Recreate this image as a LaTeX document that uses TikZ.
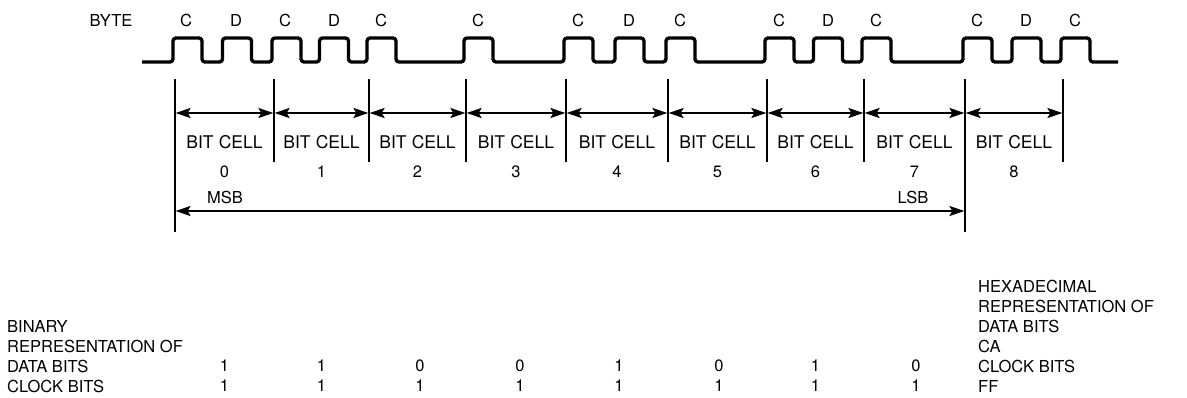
\documentclass[tikz,border=0pt]{standalone}
\usepackage{fontspec}
\setmainfont{TeX Gyre Heros}
\usetikzlibrary{arrows.meta}
\tikzset{
  txt/.style={inner sep=0pt,font=\fontsize{16.5}{20}\selectfont},
  celltxt/.style={inner sep=0pt,font=\fontsize{17.5}{20}\selectfont},
  lbl/.style={txt,anchor=west},
  wave/.style={line width=3.4pt,rounded corners=3pt,line join=round},
  bound/.style={line width=2.8pt},
  dimarrow/.style={line width=1.9pt,{Stealth[length=15pt,width=10pt,inset=3pt]}-{Stealth[length=15pt,width=10pt,inset=3pt]}, shorten <=0.6pt, shorten >=0.6pt},
}
\begin{document}
\begin{tikzpicture}[x=1pt,y=-1pt]
\useasboundingbox (0,0) rectangle (1187,398);
% waveform
\draw[wave] (142,62) foreach \s in {173,222.5,272,319.5,367,464,564,615,666,765,813.5,862,963,1012,1061} { -- (\s,62) -- (\s,38) -- (\s+29,38) -- (\s+29,62) } -- (1118,62);
% labels above waveform
\node[txt] (byte) at (111,20) {BYTE};
\foreach \x/\t [count=\i] in {186/C,236/D,285/C,334/D,381/C,478/C,578/C,629/D,680/C,779/C,828/D,876/C,977/C,1026/D,1075/C}
  \node[txt] (top\i) at (\x,20) {\t};
% boundaries
\foreach \x [count=\i from 0] in {175,274,369,466,566,668,767,864,965,1063}
  \coordinate (b\i) at (\x,113);
\draw[bound] (175,79) -- (175,232);
\draw[bound] (965,79) -- (965,232);
\foreach \x in {274,369,466,566,668,767,864,1063}
  \draw[bound] (\x,79) -- (\x,162);
% cell arrows
\foreach \i [evaluate=\i as \j using int(\i+1)] in {0,...,8}
  \draw[dimarrow] (b\i) -- (b\j);
% cell labels
\foreach \x [count=\i from 0] in {224.5,321.5,417.5,516,617,717.5,815.5,914.5,1014}{
  \node[celltxt] (cell\i) at (\x,142) {BIT\hspace{0.3em}CELL};
  \node[txt] (num\i) at (\x,172) {\i};
}
\node[txt] (msb) at (225,197) {MSB};
\node[txt] (lsb) at (913,197) {LSB};
\coordinate (l0) at (175,211);
\coordinate (l8) at (965,211);
\draw[dimarrow] (l0) -- (l8);
% bottom table
\node[lbl] (bin) at (7,326) {BINARY};
\node[lbl] (rep) at (7,346) {REPRESENTATION OF};
\node[lbl] (dat) at (7,366) {DATA BITS};
\node[lbl] (clk) at (7,386) {CLOCK BITS};
\foreach \x/\d [count=\i] in {224.5/1,321.5/1,420/0,520/0,619/1,719/0,815.5/1,916/0}{
  \node[txt] (d\i) at (\x,366) {\d};
  \node[txt] (c\i) at (\x,386) {1};
}
\node[lbl] (hex) at (978,286) {HEXADECIMAL};
\node[lbl] (hrep) at (978,306) {REPRESENTATION OF};
\node[lbl] (hdat) at (978,326) {DATA BITS};
\node[lbl] (hca) at (978,346) {CA};
\node[lbl] (hclk) at (978,366) {CLOCK BITS};
\node[lbl] (hff) at (978,386) {FF};
\end{tikzpicture}
\end{document}
